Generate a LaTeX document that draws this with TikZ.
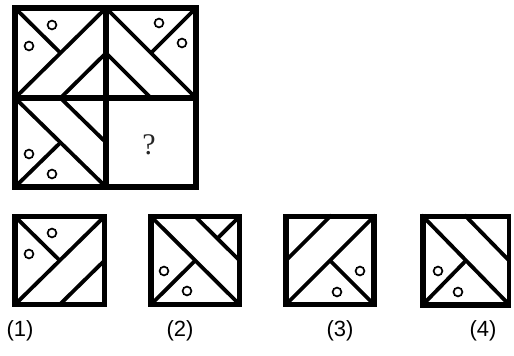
\documentclass[tikz,border=0pt]{standalone}
\usepackage{fontspec}
\setmainfont{Liberation Sans}
\newfontfamily\qfont{Liberation Serif}
\begin{document}
\begin{tikzpicture}[x=1pt,y=-1pt,
  frame/.style={line width=6pt, line join=miter},
  divider/.style={line width=5.5pt},
  inner/.style={line width=3.8pt},
  ring/.style={line width=1.7pt},
  optframe/.style={line width=5.5pt, line join=miter},
  poke/.style={shorten <=-2pt},
  lbl/.style={font=\fontsize{22}{24}\selectfont, inner sep=0pt}]
\useasboundingbox (0,0) rectangle (514,356);
% ---------- main grid ----------
% cell 1
\draw[inner] (15,98) -- (106,8);
\draw[inner] (15,8) -- (60.5,53);
\draw[inner] (60.5,98) -- (106,53);
\draw[ring] (52,25) circle[radius=4.4pt];
\draw[ring] (29,46) circle[radius=4.4pt];
% cell 2
\draw[inner] (106,8) -- (196,98);
\draw[inner] (196,8) -- (151,53);
\draw[inner] (106,53) -- (151,98);
\draw[ring] (159,23) circle[radius=4.4pt];
\draw[ring] (182,43) circle[radius=4.4pt];
% cell 3
\draw[inner] (15,98) -- (106,187);
\draw[inner] (15,187) -- (60.5,142.5);
\draw[inner] (60.5,98) -- (106,142.5);
\draw[ring] (29,154) circle[radius=4.4pt];
\draw[ring] (52,174) circle[radius=4.4pt];
% cell 4
\node[inner sep=0pt, text=black!85] (q) at (149,145) {\qfont\fontsize{30}{31}\selectfont ?};
% grid lines
\draw[divider] (106,8) -- (106,187);
\draw[divider] (15,98) -- (196,98);
\draw[frame] (15,8) rectangle (196,187);
% ---------- option 1 ----------
\draw[inner] (15,304.5) -- (104.5,216.5);
\draw[inner] (15,216.5) -- (59.75,260.5);
\draw[inner] (59.75,304.5) -- (104.5,260.5);
\draw[ring] (52,233) circle[radius=4.4pt];
\draw[ring] (29,254) circle[radius=4.4pt];
\draw[optframe] (15,216.5) rectangle (104.5,304.5);
% ---------- option 2 ----------
\draw[inner] (151,216.5) -- (239.5,304.5);
\draw[inner] (195.25,216.5) -- (239.5,260.5);
\draw[inner] (239.5,216.5) -- (217.4,238.4);
\draw[inner] (151,304.5) -- (195.25,260.5);
\draw[ring] (164,271) circle[radius=4.4pt];
\draw[ring] (187,291) circle[radius=4.4pt];
\draw[optframe] (151,216.5) rectangle (239.5,304.5);
% ---------- option 3 ----------
\draw[optframe] (286,216.5) rectangle (374,304.5);
\draw[inner, shorten >=-2pt] (286,304.5) -- (374,216.5);
\draw[inner, poke] (330,216.5) -- (286,260.5);
\draw[inner] (330,260.5) -- (374,304.5);
\draw[ring] (360,271) circle[radius=4.4pt];
\draw[ring] (337,292) circle[radius=4.4pt];
% ---------- option 4 ----------
\draw[line width=5.5pt] (420,216.5) -- (510.5,216.5);
\draw[line width=6pt] (420,304.5) -- (510.5,304.5);
\draw[line width=6.5pt] (423,213.75) -- (423,307.5);
\draw[line width=4pt] (509,213.75) -- (509,307.5);
\draw[inner, poke] (423,216.5) -- (509,304.5);
\draw[inner, poke] (466,216.5) -- (509,260.5);
\draw[inner] (423,304.5) -- (466,260.5);
\draw[ring] (438,271) circle[radius=4.4pt];
\draw[ring] (458,292) circle[radius=4.4pt];
% ---------- labels ----------
\node[lbl] (l1) at (20,331) {(1)};
\node[lbl] (l2) at (180,331) {(2)};
\node[lbl] (l3) at (340,331) {(3)};
\node[lbl] (l4) at (483,331) {(4)};
\end{tikzpicture}
\end{document}
